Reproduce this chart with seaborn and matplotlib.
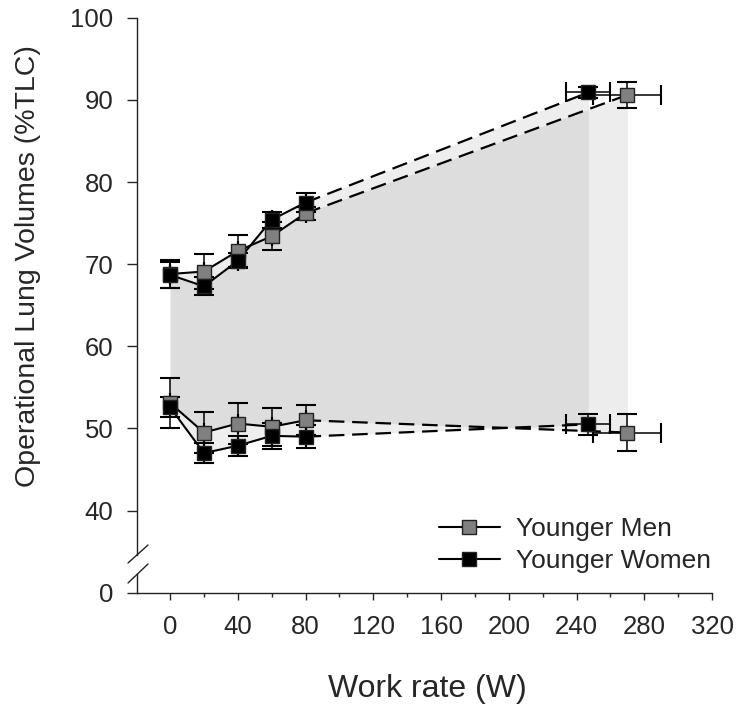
import numpy as np
import pandas as pd
import matplotlib
matplotlib.use('Agg')
import matplotlib.pyplot as plt
import seaborn as sns
from matplotlib.lines import Line2D

# Data
men_rate = [0, 20, 40, 60, 80, 270]
men_rate_sd = [0, 0, 0, 0, 0, 20]
men_eilv = [68.8, 69.1, 71.6, 73.4, 76.2, 90.6]
men_eilv_sd = [1.7, 2.1, 1.9, 1.7, 0.8, 1.6]
men_eelv = [53.1, 49.5, 50.6, 50.2, 51.0, 49.5]
men_eelv_sd = [3.0, 2.5, 2.5, 2.3, 1.8, 2.2]

women_rate = [0, 20, 40, 60, 80, 247]
women_rate_sd = [0, 0, 0, 0, 0, 13]
women_eilv = [68.7, 67.3, 70.4, 75.4, 77.5, 90.9]
women_eilv_sd = [1.6, 1.1, 0.9, 1.0, 1.2, 0.7]
women_eelv = [52.6, 47.0, 47.9, 49.1, 49.0, 50.5]
women_eelv_sd = [1.2, 1.2, 1.2, 1.6, 1.4, 1.3]

x_ticks = [0, 40, 80, 120, 160, 200, 240, 280, 320]
y_ticks = [40, 50, 60, 70, 80, 90, 100]

sns.set_style('ticks')
plt.rcParams['font.family'] = ['Liberation Sans', 'DejaVu Sans']

W, H = 756, 709
fig = plt.figure(figsize=(W / 100, H / 100), dpi=100)

def rect(left, top, right, bottom):
    return [left / W, 1 - bottom / H, (right - left) / W, (bottom - top) / H]

ax = fig.add_axes(rect(137, 17.7, 712, 555))
axb = fig.add_axes(rect(137, 574, 712, 593), sharex=ax)

px_per_unit = 8.215
ax.set_ylim(100 - (555 - 17.7) / px_per_unit, 100)
axb.set_ylim(0, (593 - 574) / px_per_unit)
ax.set_xlim(-19.5, 320)

# shaded areas between the operational volumes
ax.fill_between(men_rate, men_eelv, men_eilv, color='black', alpha=0.07, lw=0, zorder=0)
ax.fill_between(women_rate, women_eelv, women_eilv, color='black', alpha=0.065, lw=0, zorder=0)

groups = [
    ('Younger Men', men_rate, men_rate_sd, men_eilv, men_eilv_sd, men_eelv, men_eelv_sd, '#808080'),
    ('Younger Women', women_rate, women_rate_sd, women_eilv, women_eilv_sd, women_eelv, women_eelv_sd, 'black'),
]

for name, rate, rate_sd, eilv, eilv_sd, eelv, eelv_sd, fc in groups:
    for vals, sd in [(eilv, eilv_sd), (eelv, eelv_sd)]:
        df = pd.DataFrame({'rate': rate, 'vol': vals})
        sns.lineplot(data=df.iloc[:5], x='rate', y='vol', ax=ax, color='black', lw=1.5, zorder=2)
        sns.lineplot(data=df.iloc[4:], x='rate', y='vol', ax=ax, color='black', lw=1.6,
                     dashes=False, linestyle=(0, (7, 3.5)), zorder=2)
        ax.errorbar(rate, vals, yerr=sd, xerr=rate_sd, fmt='none', ecolor='black',
                    elinewidth=1.1, capsize=7.5, capthick=1.5, zorder=3)
        ax.plot(rate, vals, ls='none', marker='s', markersize=10.5, markerfacecolor=fc,
                markeredgecolor='#222222', markeredgewidth=1.0, zorder=4)

# axes styling
ax.set_yticks(y_ticks)
ax.tick_params(axis='y', length=7, width=1, labelsize=18.5, pad=10)
ax.tick_params(axis='x', bottom=False, labelbottom=False, which='both')
for s in ['top', 'right', 'bottom']:
    ax.spines[s].set_visible(False)
ax.spines['left'].set_linewidth(1)
ax.spines['left'].set_color('#222222')

axb.set_yticks([0])
axb.tick_params(axis='y', length=7, width=1, labelsize=18.5, pad=10)
axb.set_xticks(x_ticks)
axb.set_xticks([20, 60, 100, 140, 180, 220, 260, 300], minor=True)
axb.tick_params(axis='x', which='major', length=5, width=1, labelsize=18.5, pad=11)
axb.tick_params(axis='x', which='minor', length=3, width=1)
for s in ['top', 'right']:
    axb.spines[s].set_visible(False)
for s in ['left', 'bottom']:
    axb.spines[s].set_linewidth(1)
    axb.spines[s].set_color('#222222')
axb.set_facecolor('none')
ax.set_facecolor('none')
ax.set_xlabel('')
ax.set_ylabel('')
axb.set_ylabel('')
axb.set_xlabel('')

fig.text(427 / W, 1 - 697 / H, 'Work rate (W)', fontsize=23, ha='center', va='baseline')
fig.text(28 / W, 1 - 266 / H, 'Operational Lung Volumes (%TLC)', rotation=90,
         fontsize=20.5, ha='center', va='center')

# break marks on the y axis
for y0, y1 in [(563, 545), (583, 564)]:
    fig.add_artist(Line2D([128 / W, 148 / W], [1 - y0 / H, 1 - y1 / H],
                          color='#222222', lw=1))

handles = [
    Line2D([], [], color='black', lw=1.5, marker='s', markersize=10.5,
           markerfacecolor='#808080', markeredgecolor='#222222'),
    Line2D([], [], color='black', lw=1.5, marker='s', markersize=10.5,
           markerfacecolor='black', markeredgecolor='#222222'),
]
fig.legend(handles, ['Younger Men', 'Younger Women'], loc='center left',
           bbox_to_anchor=(439 / W, 1 - 545 / H), frameon=False, fontsize=19,
           handlelength=2.3, handletextpad=0.6, labelspacing=0.3,
           borderpad=0, borderaxespad=0)

fig.savefig('out.png', dpi=100)
